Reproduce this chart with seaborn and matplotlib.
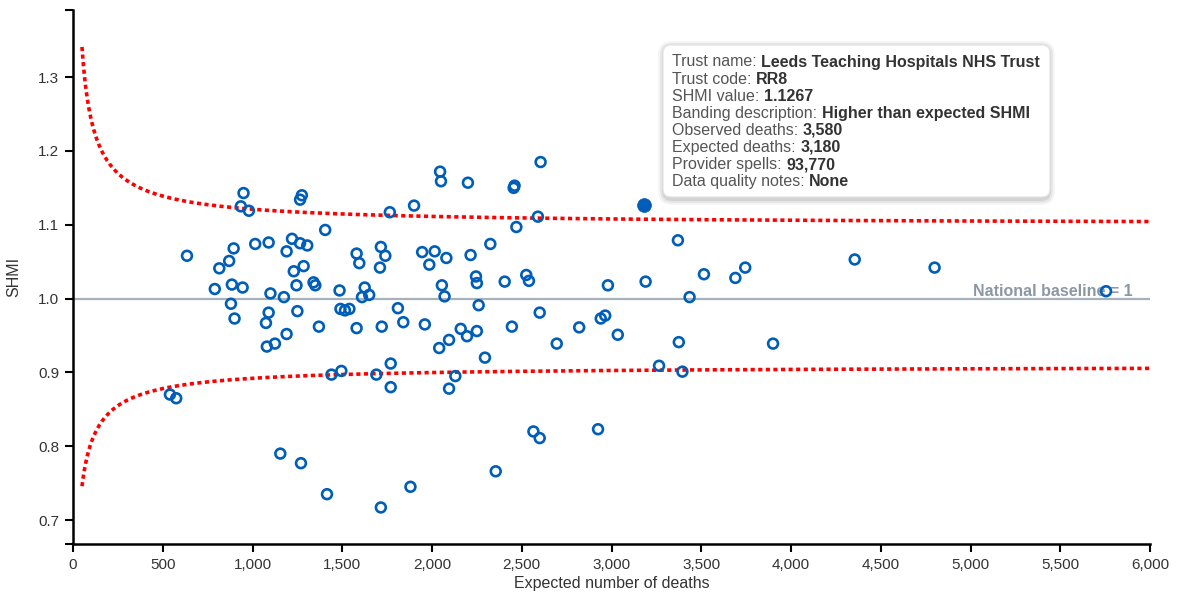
import numpy as np
import pandas as pd
import matplotlib
matplotlib.use("Agg")
import matplotlib.pyplot as plt
import seaborn as sns
from matplotlib.patches import FancyBboxPatch
from matplotlib.transforms import IdentityTransform
from matplotlib.ticker import FuncFormatter

# Trust-level SHMI results: expected deaths vs SHMI value
expected_deaths = [
    950, 935, 980, 1275, 1265, 1765, 1900, 635, 895, 870,
    815, 1015, 1090, 1220, 1265, 1305, 1190, 1285, 1230, 790,
    885, 945, 1245, 1340, 1350, 1100, 1175, 1485, 1625, 1610,
    1650, 1580, 1595, 1715, 1740, 1710, 880, 900, 1090, 1075,
    1190, 1080, 1125, 1250, 1370, 1490, 1515, 1540, 1580, 1720,
    1810, 1840, 540, 575, 1440, 1495, 1690, 1770, 1770, 1155,
    1270, 1415, 1715, 1880, 2045, 2050, 2200, 2460, 2455, 2605,
    2590, 2470, 2325, 1945, 2015, 1985, 2080, 2215, 2245, 2250,
    2405, 2525, 2540, 2980, 3190, 2055, 2070, 2260, 1960, 2095,
    2040, 2160, 2195, 2250, 2295, 2445, 2600, 2695, 2820, 2940,
    2965, 3035, 2130, 2095, 2565, 2600, 2925, 2355, 3370, 3515,
    3690, 3745, 3435, 4355, 4800, 5755, 3375, 3265, 3395, 3900,
    1405,
]
shmi_values = [
    1.143, 1.125, 1.119, 1.140, 1.134, 1.117, 1.126, 1.058, 1.068, 1.051,
    1.041, 1.074, 1.076, 1.081, 1.075, 1.072, 1.064, 1.044, 1.037, 1.013,
    1.019, 1.015, 1.018, 1.022, 1.018, 1.007, 1.002, 1.011, 1.015, 1.002,
    1.005, 1.061, 1.048, 1.070, 1.058, 1.042, 0.993, 0.973, 0.981, 0.967,
    0.952, 0.935, 0.939, 0.983, 0.962, 0.986, 0.984, 0.986, 0.960, 0.962,
    0.987, 0.968, 0.870, 0.865, 0.897, 0.902, 0.897, 0.912, 0.880, 0.790,
    0.777, 0.735, 0.717, 0.745, 1.172, 1.159, 1.157, 1.153, 1.150, 1.185,
    1.111, 1.097, 1.074, 1.063, 1.064, 1.046, 1.055, 1.059, 1.030, 1.021,
    1.023, 1.032, 1.024, 1.018, 1.023, 1.018, 1.003, 0.991, 0.965, 0.944,
    0.933, 0.959, 0.949, 0.956, 0.920, 0.962, 0.981, 0.939, 0.961, 0.973,
    0.977, 0.951, 0.895, 0.878, 0.820, 0.811, 0.823, 0.766, 1.079, 1.033,
    1.028, 1.042, 1.002, 1.053, 1.042, 1.010, 0.941, 0.909, 0.901, 0.939,
    1.093,
]

# Selected trust
selected_expected = 3180
selected_shmi = 1.1267
tooltip_labels = [
    "Trust name:", "Trust code:", "SHMI value:", "Banding description:",
    "Observed deaths:", "Expected deaths:", "Provider spells:", "Data quality notes:",
]
tooltip_values = [
    "Leeds Teaching Hospitals NHS Trust", "RR8", "1.1267",
    "Higher than expected SHMI", "3,580", "3,180", "93,770", "None",
]

# Funnel control limits (95%, with overdispersion)
Z_SCORE = 1.96
OVERDISPERSION = 0.0024
LIMIT_START, LIMIT_END = 50, 6000

x_ticks = list(range(0, 6001, 500))
y_ticks = [0.7, 0.8, 0.9, 1.0, 1.1, 1.2, 1.3]
x_range = (0, 6000)
y_range = (0.6675, 1.391)

W, H, DPI = 1179, 592, 100
NHS_BLUE = "#005EB8"

sns.set_style("ticks")
plt.rcParams["font.family"] = ["Liberation Sans", "DejaVu Sans"]

fig = plt.figure(figsize=(W / DPI, H / DPI), dpi=DPI)
ax = fig.add_axes([73 / W, 1 - 544 / H, (1150 - 73) / W, (544 - 10) / H])

df = pd.DataFrame({"expected": expected_deaths, "shmi": shmi_values})

# control limits
e = np.linspace(LIMIT_START, LIMIT_END, 800)
half_width = Z_SCORE * np.sqrt(1.0 / e + OVERDISPERSION)
limits = pd.DataFrame({"expected": np.concatenate([e, e]),
                       "limit": np.concatenate([np.exp(half_width), np.exp(-half_width)]),
                       "side": ["upper"] * len(e) + ["lower"] * len(e)})
for side, grp in limits.groupby("side"):
    ax.plot(grp["expected"], grp["limit"], color="#ff0000", lw=2.6,
            linestyle=(0, (1.15, 0.95)), dash_capstyle="butt", zorder=2)

# national baseline
ax.plot(list(x_range), [1.0, 1.0], color="#a7b1bb", lw=1.6, zorder=1)
ax.text(5905, 1.004, "National baseline = 1", ha="right", va="baseline",
        fontsize=11.5, fontweight="bold", color="#8b97a3", zorder=2)

sns.scatterplot(data=df, x="expected", y="shmi", ax=ax, marker="o",
                s=50, facecolor="none", edgecolor=NHS_BLUE, linewidth=1.9,
                zorder=3, legend=False)
ax.scatter([selected_expected], [selected_shmi], s=100, color=NHS_BLUE,
           edgecolor=NHS_BLUE, linewidth=0.5, zorder=4)

ax.set_xlim(*x_range)
ax.set_ylim(*y_range)
ax.set_xticks(x_ticks)
ax.set_yticks(y_ticks)
ax.xaxis.set_major_formatter(FuncFormatter(lambda v, p: f"{int(v):,}"))
ax.yaxis.set_major_formatter(FuncFormatter(lambda v, p: f"{v:.1f}"))
ax.set_yticks(list(y_range), minor=True)
ax.tick_params(axis="both", which="both", length=6, width=1.5, color="black",
               labelsize=11, labelcolor="#333333", direction="out")
ax.tick_params(axis="x", pad=4)
ax.tick_params(axis="y", pad=4)
ax.set_xlabel("Expected number of deaths", fontsize=11.5, color="#333333", labelpad=3)
ax.set_ylabel("SHMI", fontsize=11.5, color="#333333", labelpad=12)
for side in ["top", "right"]:
    ax.spines[side].set_visible(False)
for side in ["left", "bottom"]:
    ax.spines[side].set_color("black")
    ax.spines[side].set_linewidth(1.8)
ax.set_facecolor("white")
fig.patch.set_facecolor("white")

# tooltip card
ident = IdentityTransform()
bx0, by_top, bx1, by_bot = 663, 45, 1050, 197
for k, a in [(6, 0.04), (4, 0.06), (2, 0.08)]:
    fig.patches.append(FancyBboxPatch(
        (bx0 - k + 1, H - by_bot - k - 2), (bx1 - bx0) + 2 * k - 2, (by_bot - by_top) + 2 * k,
        boxstyle=f"round,pad=0,rounding_size={8 + k}", transform=ident,
        facecolor="#000000", edgecolor="none", alpha=a, zorder=5))
fig.patches.append(FancyBboxPatch(
    (bx0, H - by_bot), bx1 - bx0, by_bot - by_top,
    boxstyle="round,pad=0,rounding_size=8", transform=ident,
    facecolor="white", edgecolor="#e2e2e2", lw=0.8, zorder=6))

label_artists = []
for i, lab in enumerate(tooltip_labels):
    y = H - (66.5 + i * 17.1)
    t = fig.text(672, y, lab, transform=ident, ha="left", va="baseline",
                 fontsize=11.5, color="#555555", zorder=7)
    label_artists.append((t, y))

fig.canvas.draw()
renderer = fig.canvas.get_renderer()
for (t, y), val in zip(label_artists, tooltip_values):
    bb = t.get_window_extent(renderer)
    fig.text(bb.x1 + 4.5, y, val, transform=ident, ha="left", va="baseline",
             fontsize=11.5, fontweight="bold", color="#333333", zorder=7)

fig.savefig("out.png", dpi=DPI, facecolor="white")
